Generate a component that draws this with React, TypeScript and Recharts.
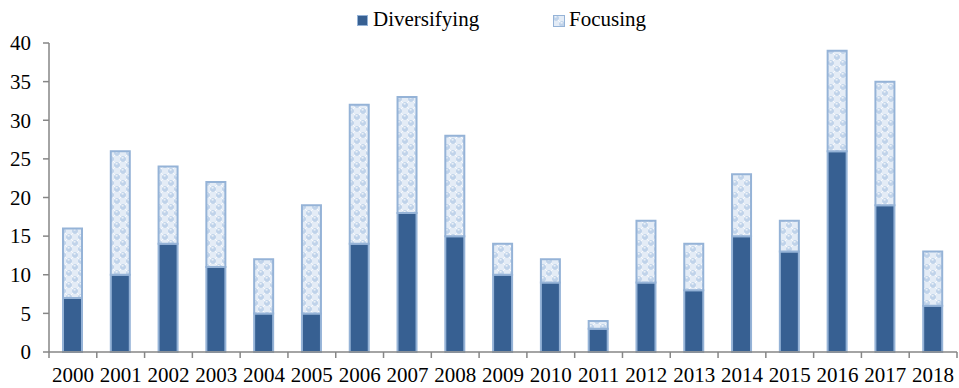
import React from 'react';
import { BarChart, Bar, XAxis, YAxis, Legend } from 'recharts';

const years = ['2000', '2001', '2002', '2003', '2004', '2005', '2006', '2007', '2008', '2009', '2010', '2011', '2012', '2013', '2014', '2015', '2016', '2017', '2018'];
const diversifying = [7, 10, 14, 11, 5, 5, 14, 18, 15, 10, 9, 3, 9, 8, 15, 13, 26, 19, 6];
const focusing = [9, 16, 10, 11, 7, 14, 18, 15, 13, 4, 3, 1, 8, 6, 8, 4, 13, 16, 7];
const yTicks = [0, 5, 10, 15, 20, 25, 30, 35, 40];

const data = years.map((year, i) => ({ year, Diversifying: diversifying[i], Focusing: focusing[i] }));

const WIDTH = 959;
const HEIGHT = 388;
const MARGIN = { top: 13, right: 2, bottom: 0, left: 0 };
const Y_AXIS_WIDTH = 49;
const PLOT_WIDTH = WIDTH - MARGIN.left - MARGIN.right - Y_AXIS_WIDTH;
const BAND = PLOT_WIDTH / years.length;

const FONT = '"Liberation Serif", "Times New Roman", serif';
const AXIS_COLOR = '#868686';
const DARK_BLUE = '#376092';
const EDGE_BLUE = '#95B3D7';

// Category labels centred under each bar, tick marks on the category boundaries
const XTick = (props: any) => {
  const { x, y, payload, index } = props;
  const half = BAND / 2;
  const isLast = index === years.length - 1;
  return (
    <g>
      <line x1={x - half} x2={x - half} y1={y} y2={y + 6} stroke={AXIS_COLOR} strokeWidth={1.5} />
      {isLast && <line x1={x + half} x2={x + half} y1={y} y2={y + 6} stroke={AXIS_COLOR} strokeWidth={1.5} />}
      <text x={x} y={y + 30} textAnchor="middle" fontFamily={FONT} fontSize={21} fill="#000">
        {payload.value}
      </text>
    </g>
  );
};

// Value labels right-aligned left of the y-axis ticks
const YTick = (props: any) => {
  const { x, y, payload } = props;
  return (
    <text x={x} y={y} dy="0.35em" textAnchor="end" fontFamily={FONT} fontSize={21} fill="#000">
      {payload.value}
    </text>
  );
};

const renderLegend = () => (
  <div style={{ position: 'relative', width: WIDTH, height: 30, fontFamily: FONT, fontSize: 21, color: '#000' }}>
    <div style={{ position: 'absolute', left: 357, top: 15, width: 11, height: 11, background: DARK_BLUE, border: `1px solid ${EDGE_BLUE}`, boxSizing: 'border-box' }} />
    <span style={{ position: 'absolute', left: 373, top: 7, lineHeight: '24px', whiteSpace: 'nowrap' }}>Diversifying</span>
    <svg style={{ position: 'absolute', left: 553, top: 15 }} width={12} height={12}>
      <rect x={0.5} y={0.5} width={11} height={11} fill="url(#focusPattern)" stroke={EDGE_BLUE} />
    </svg>
    <span style={{ position: 'absolute', left: 569, top: 7, lineHeight: '24px', whiteSpace: 'nowrap' }}>Focusing</span>
  </div>
);

export default function App() {
  return (
    <div style={{ position: 'absolute', left: 0, top: 0, width: WIDTH, height: HEIGHT, background: '#fff' }}>
      <BarChart width={WIDTH} height={HEIGHT} data={data} margin={MARGIN} barCategoryGap={0}>
        <defs>
          <pattern id="focusPattern" width={12} height={12} patternUnits="userSpaceOnUse">
            <rect width={12} height={12} fill="#ffffff" />
            <rect x={6} y={0} width={6} height={6} fill="#E4ECF6" />
            <rect x={0} y={6} width={6} height={6} fill="#E4ECF6" />
            <circle cx={3} cy={3} r={3} fill="#C0D3EA" />
            <circle cx={9} cy={9} r={3} fill="#C0D3EA" />
            <ellipse cx={2.6} cy={1.8} rx={1.3} ry={0.6} fill="#ffffff" />
            <ellipse cx={8.6} cy={7.8} rx={1.3} ry={0.6} fill="#ffffff" />
          </pattern>
        </defs>
        <Legend verticalAlign="top" content={renderLegend} wrapperStyle={{ top: 0, left: 0, width: WIDTH, height: 30 }} />
        <XAxis
          dataKey="year"
          height={36}
          interval={0}
          tickSize={0}
          tickMargin={0}
          tickLine={false}
          axisLine={{ stroke: AXIS_COLOR, strokeWidth: 1.5 }}
          tick={<XTick />}
        />
        <YAxis
          width={Y_AXIS_WIDTH}
          domain={[0, 40]}
          ticks={yTicks}
          interval={0}
          tickSize={6}
          tickMargin={12}
          axisLine={{ stroke: AXIS_COLOR, strokeWidth: 1.5 }}
          tickLine={{ stroke: AXIS_COLOR, strokeWidth: 1.5 }}
          tick={<YTick />}
        />
        <Bar dataKey="Diversifying" stackId="a" barSize={19} fill={DARK_BLUE} stroke={EDGE_BLUE} strokeWidth={2} isAnimationActive={false} />
        <Bar dataKey="Focusing" stackId="a" barSize={19} fill="url(#focusPattern)" stroke={EDGE_BLUE} strokeWidth={2} isAnimationActive={false} />
      </BarChart>
    </div>
  );
}
